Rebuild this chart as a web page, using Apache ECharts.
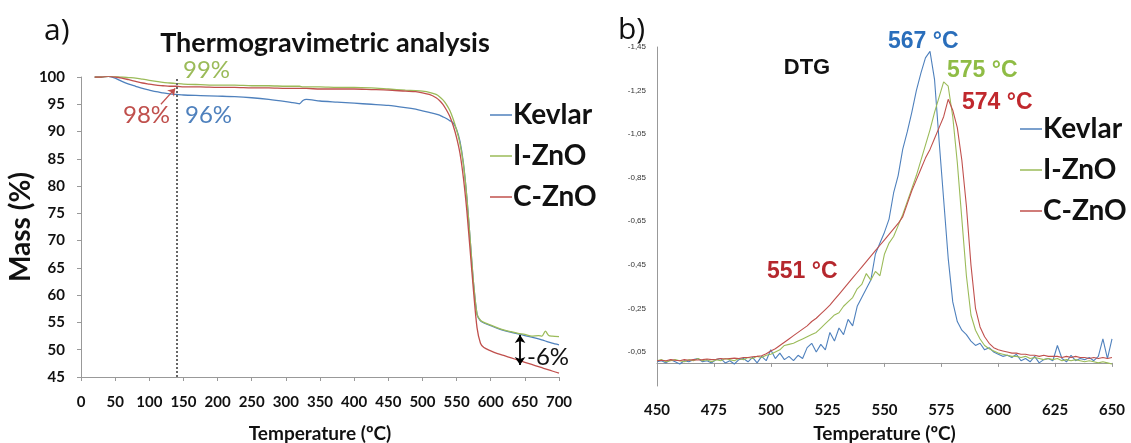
<!DOCTYPE html>
<html><head><meta charset="utf-8">
<script src="https://cdn.jsdelivr.net/npm/echarts@6/dist/echarts.min.js"></script>
<style>html,body{margin:0;padding:0;background:#fff}#c{width:1131px;height:443px}</style>
</head><body><div id="c"></div>
<script>
// ---- TGA (panel a) ----
const tgaTemp = [20,30,40,50,60,70,80,90,100,110,120,130,140,150,175,200,225,250,275,300,310,315,320,325,330,350,375,400,425,450,475,490,500,510,520,525,530,535,540,545,550,555,560,565,570,575,580,585,590,600,610,620,630,640,650,660,670,675,680,685,690,700];
const kevlarTGA = [100,100,100.1,99.8,99.2,98.7,98.3,97.9,97.6,97.3,97.1,96.9,96.8,96.7,96.6,96.5,96.4,96.2,95.9,95.5,95.3,95.2,95.1,95.7,95.9,95.6,95.4,95.2,95.0,94.8,94.4,94.1,93.8,93.5,93.2,93.0,92.7,92.4,92.0,91.6,90.4,88.2,84.2,78.0,70.0,62.0,56.5,55.3,54.9,54.4,53.9,53.5,53.2,52.9,52.6,52.3,52.0,51.8,51.6,51.4,51.2,50.9];
const iznoTGA = [100,100,100.1,100.1,100,99.9,99.8,99.6,99.4,99.2,99.0,98.9,98.8,98.7,98.6,98.5,98.5,98.4,98.4,98.3,98.3,98.3,98.3,98.2,98.2,98.2,98.1,98.1,98.0,97.8,97.6,97.5,97.4,97.2,96.8,96.4,95.8,95.0,93.9,92.3,90.3,87.8,84.0,78.0,70.0,62.0,56.5,55.4,55.0,54.5,54.0,53.6,53.3,53.0,52.8,52.5,52.6,52.5,53.4,52.6,52.5,52.4];
const cznoTGA = [100,100,100.1,100,99.8,99.5,99.2,98.9,98.7,98.5,98.4,98.3,98.3,98.2,98.2,98.1,98.1,98.0,98.0,97.9,97.9,97.9,97.9,97.9,97.9,97.8,97.8,97.8,97.7,97.6,97.4,97.3,97.1,96.8,96.2,95.7,95.0,94.0,92.8,91.1,88.9,86.0,81.5,75.5,68.0,60.5,54.0,51.2,50.4,49.8,49.3,48.9,48.5,48.1,47.7,47.3,46.9,46.7,46.5,46.3,46.1,45.7];
const tgaYTicks = {min:45, max:100, interval:5};
const tgaXTicks = {min:0, max:700, interval:50};
const cutTemp = 140;

// ---- DTG (panel b) ----
const dtgTemp = [450,452,454,456,458,460,462,464,466,468,470,472,474,476,478,480,482,484,486,488,490,492,494,496,498,500,502,504,506,508,510,512,514,516,518,520,522,524,526,528,530,532,534,536,538,540,542,544,546,548,550,552,554,556,558,560,562,564,566,568,570,572,574,576,578,580,582,584,586,588,590,592,594,596,598,600,602,604,606,608,610,612,614,616,618,620,622,624,626,628,630,632,634,636,638,640,642,644,646,648,650];
const kevlarDTG = [-0.005,-0.01,0.0,-0.015,-0.005,0.005,-0.01,-0.005,-0.015,-0.02,-0.005,-0.01,0.0,-0.015,-0.02,0.0,-0.01,0.005,-0.015,-0.02,-0.005,-0.025,0.0,-0.03,-0.01,-0.06,-0.02,-0.045,-0.015,-0.03,-0.01,-0.035,-0.02,-0.07,-0.09,-0.05,-0.085,-0.06,-0.14,-0.1,-0.16,-0.13,-0.2,-0.17,-0.26,-0.3,-0.34,-0.38,-0.5,-0.55,-0.6,-0.66,-0.78,-0.86,-0.98,-1.06,-1.15,-1.25,-1.33,-1.4,-1.43,-1.3,-1.02,-0.75,-0.48,-0.28,-0.19,-0.15,-0.13,-0.1,-0.08,-0.09,-0.06,-0.07,-0.05,-0.04,-0.03,-0.035,-0.025,-0.04,-0.01,-0.02,-0.005,-0.03,0.0,-0.015,-0.02,-0.01,-0.08,-0.02,-0.005,-0.035,-0.01,-0.02,-0.015,-0.025,-0.01,-0.03,-0.11,-0.02,-0.11];
const iznoDTG = [-0.01,-0.015,-0.005,-0.01,-0.015,-0.01,-0.005,-0.015,-0.01,-0.02,-0.01,-0.015,-0.005,-0.015,-0.01,-0.02,-0.015,-0.01,-0.02,-0.015,-0.025,-0.02,-0.03,-0.025,-0.035,-0.04,-0.05,-0.06,-0.08,-0.085,-0.09,-0.1,-0.11,-0.12,-0.13,-0.14,-0.16,-0.18,-0.2,-0.22,-0.23,-0.26,-0.28,-0.3,-0.34,-0.36,-0.41,-0.38,-0.42,-0.4,-0.5,-0.55,-0.58,-0.63,-0.68,-0.74,-0.8,-0.86,-0.93,-1.0,-1.07,-1.15,-1.22,-1.29,-1.27,-1.13,-0.92,-0.66,-0.4,-0.22,-0.15,-0.11,-0.08,-0.065,-0.055,-0.045,-0.04,-0.035,-0.03,-0.03,-0.025,-0.03,-0.02,-0.025,-0.02,-0.015,-0.02,-0.015,-0.02,-0.01,-0.015,-0.01,-0.015,-0.01,-0.005,-0.01,-0.005,0.0,-0.005,0.0,0.005];
const cznoDTG = [-0.01,-0.012,-0.01,-0.015,-0.012,-0.01,-0.015,-0.012,-0.015,-0.013,-0.015,-0.018,-0.015,-0.017,-0.02,-0.018,-0.02,-0.022,-0.02,-0.025,-0.025,-0.028,-0.03,
  -0.033,-0.042,-0.055,-0.065,-0.08,-0.095,-0.11,-0.125,-0.14,-0.155,-0.17,-0.19,-0.205,-0.225,-0.245,-0.265,-0.29,-0.315,-0.34,-0.365,-0.39,-0.415,-0.44,-0.465,-0.49,-0.515,-0.54,-0.565,-0.59,-0.615,-0.64,-0.67,-0.73,-0.79,-0.84,-0.89,-0.94,-0.98,-1.03,-1.08,-1.13,-1.21,-1.16,-1.08,-0.93,-0.72,-0.45,-0.25,-0.165,-0.12,-0.09,-0.07,-0.06,
  -0.055,-0.05,-0.045,-0.045,-0.04,-0.04,-0.035,-0.035,-0.03,-0.035,-0.03,-0.03,-0.03,-0.025,-0.03,-0.025,-0.03,-0.025,-0.025,-0.02,-0.025,-0.02,-0.025,-0.02,-0.025];
const dtgYTicks = {min:-1.45, max:0.106, interval:0.2};
const dtgXTicks = {min:450, max:650, interval:25};

const names = ['Kevlar','I-ZnO','C-ZnO'];
const colors = ['#4f81bd','#9bbb59','#c0504d'];

function pairs(xs, ys){ return xs.map((x,i)=>[x, ys[i]]); }

const chart = echarts.init(document.getElementById('c'), null, {renderer:'canvas'});
const tickFont = {fontFamily:'Lato', fontWeight:'bold', fontSize:15, color:'#111'};
const axisLine = {show:true, lineStyle:{color:'#999', width:1}};

const tgaSeries = [kevlarTGA, iznoTGA, cznoTGA].map((d,i)=>({
  name:names[i], type:'line', xAxisIndex:0, yAxisIndex:0, data:pairs(tgaTemp,d),
  showSymbol:false, smooth:0.25, color:colors[i], lineStyle:{width:1.3}, z:3
}));
tgaSeries[0].markLine = {
  silent:true, symbol:['none','none'], animation:false, label:{show:false},
  data:[
    {xAxis:cutTemp, lineStyle:{color:'#666', type:[2,2], width:2}},
    [{coord:[117,95.0], symbol:'none', lineStyle:{color:'#c0504d', type:'solid', width:1.2}}, {coord:[cutTemp-2,97.9], symbol:'arrow', symbolSize:7}],
    [{coord:[643,52.7], symbol:'arrow', symbolSize:8, lineStyle:{color:'#000', type:'solid', width:1.8}}, {coord:[643,47.2], symbol:'arrow', symbolSize:8}]
  ]
};
const dtgSeries = [kevlarDTG, iznoDTG, cznoDTG].map((d,i)=>({
  name:names[i], type:'line', xAxisIndex:1, yAxisIndex:1, data:pairs(dtgTemp,d),
  showSymbol:false, color:colors[i], lineStyle:{width:1.1}, z:[2,3,4][i]
}));

const legendCommon = {
  data:names, orient:'vertical', icon:'rect', itemWidth:22, itemHeight:1.5, itemGap:13,
  textStyle:{fontFamily:'Lato', fontWeight:'bold', fontSize:28, color:'#111', padding:[0,0,0,-4]},
  selectedMode:false, padding:0
};

chart.setOption({
  animation:false,
  backgroundColor:'#fff',
  grid:[
    {left:81, top:77, width:478, height:300, outerBoundsMode:'none', containLabel:false},
    {left:657, top:47, width:455, height:339, outerBoundsMode:'none', containLabel:false}
  ],
  xAxis:[
    {type:'value', gridIndex:0, min:tgaXTicks.min, max:tgaXTicks.max, interval:tgaXTicks.interval,
     axisLine:axisLine, axisTick:{show:true, length:4, lineStyle:{color:'#999'}}, splitLine:{show:false},
     axisLabel:Object.assign({margin:18}, tickFont),
     name:'Temperature (ºC)', nameLocation:'middle', nameGap:47,
     nameTextStyle:{fontFamily:'Lato', fontWeight:'bold', fontSize:19, color:'#111'}},
    {type:'value', gridIndex:1, min:dtgXTicks.min, max:dtgXTicks.max, interval:dtgXTicks.interval,
     axisLine:axisLine, axisTick:{show:true, length:4, lineStyle:{color:'#999'}}, splitLine:{show:false},
     axisLabel:Object.assign({margin:17}, tickFont),
     name:'Temperature (ºC)', nameLocation:'middle', nameGap:38,
     nameTextStyle:{fontFamily:'Lato', fontWeight:'bold', fontSize:19, color:'#111'}}
  ],
  yAxis:[
    {type:'value', gridIndex:0, min:tgaYTicks.min, max:tgaYTicks.max, interval:tgaYTicks.interval,
     axisLine:axisLine, axisTick:{show:true, length:4, lineStyle:{color:'#999'}}, splitLine:{show:false},
     axisLabel:Object.assign({margin:16}, tickFont),
     name:'Mass (%)', nameLocation:'middle', nameGap:40, nameRotate:90,
     nameTextStyle:{fontFamily:'Lato', fontWeight:'bold', fontSize:28, color:'#111'}},
    {type:'value', gridIndex:1, inverse:true, min:dtgYTicks.min, max:dtgYTicks.max, interval:dtgYTicks.interval,
     axisLine:axisLine, axisTick:{show:false}, splitLine:{show:false},
     axisLabel:{margin:11, fontFamily:'Liberation Sans', fontSize:8, color:'#333',
       formatter:v=>v.toFixed(2).replace('.',','),
       showMaxLabel:false}}
  ],
  legend:[
    Object.assign({left:490, top:101}, legendCommon),
    Object.assign({left:1020, top:115}, legendCommon)
  ],
  graphic:[
    {type:'text', left:44, top:16, style:{text:'a)', font:'30px "Open Sans"', fill:'#111'}},
    {type:'text', left:618, top:15, style:{text:'b)', font:'30px "Open Sans"', fill:'#111'}},
    {type:'text', x:325, y:43, style:{text:'Thermogravimetric analysis', font:'bold 27px Lato', fill:'#111', align:'center', verticalAlign:'middle'}},
    {type:'text', x:183, y:70, style:{text:'99%', font:'24px Lato', fill:'#9bbb59', verticalAlign:'middle'}},
    {type:'text', x:123, y:115, style:{text:'98%', font:'24px Lato', fill:'#c0504d', verticalAlign:'middle'}},
    {type:'text', x:185, y:115, style:{text:'96%', font:'24px Lato', fill:'#4f81bd', verticalAlign:'middle'}},
    {type:'text', x:527, y:357, style:{text:'-6%', font:'24px Lato', fill:'#111', verticalAlign:'middle'}},
    {type:'text', x:807, y:68, style:{text:'DTG', font:'bold 22px "Liberation Sans"', fill:'#111', align:'center', verticalAlign:'middle'}},
    {type:'text', x:888, y:42, style:{text:'567 °C', font:'bold 23px "Liberation Sans"', fill:'#2a6ebb', verticalAlign:'middle'}},
    {type:'text', x:947, y:71, style:{text:'575 °C', font:'bold 23px "Liberation Sans"', fill:'#8fbc45', verticalAlign:'middle'}},
    {type:'text', x:962, y:103, style:{text:'574 °C', font:'bold 23px "Liberation Sans"', fill:'#c0282d', verticalAlign:'middle'}},
    {type:'text', x:767, y:272, style:{text:'551 °C', font:'bold 23px "Liberation Sans"', fill:'#b5272d', verticalAlign:'middle'}}
  ],
  series: tgaSeries.concat(dtgSeries)
});
</script></body></html>
